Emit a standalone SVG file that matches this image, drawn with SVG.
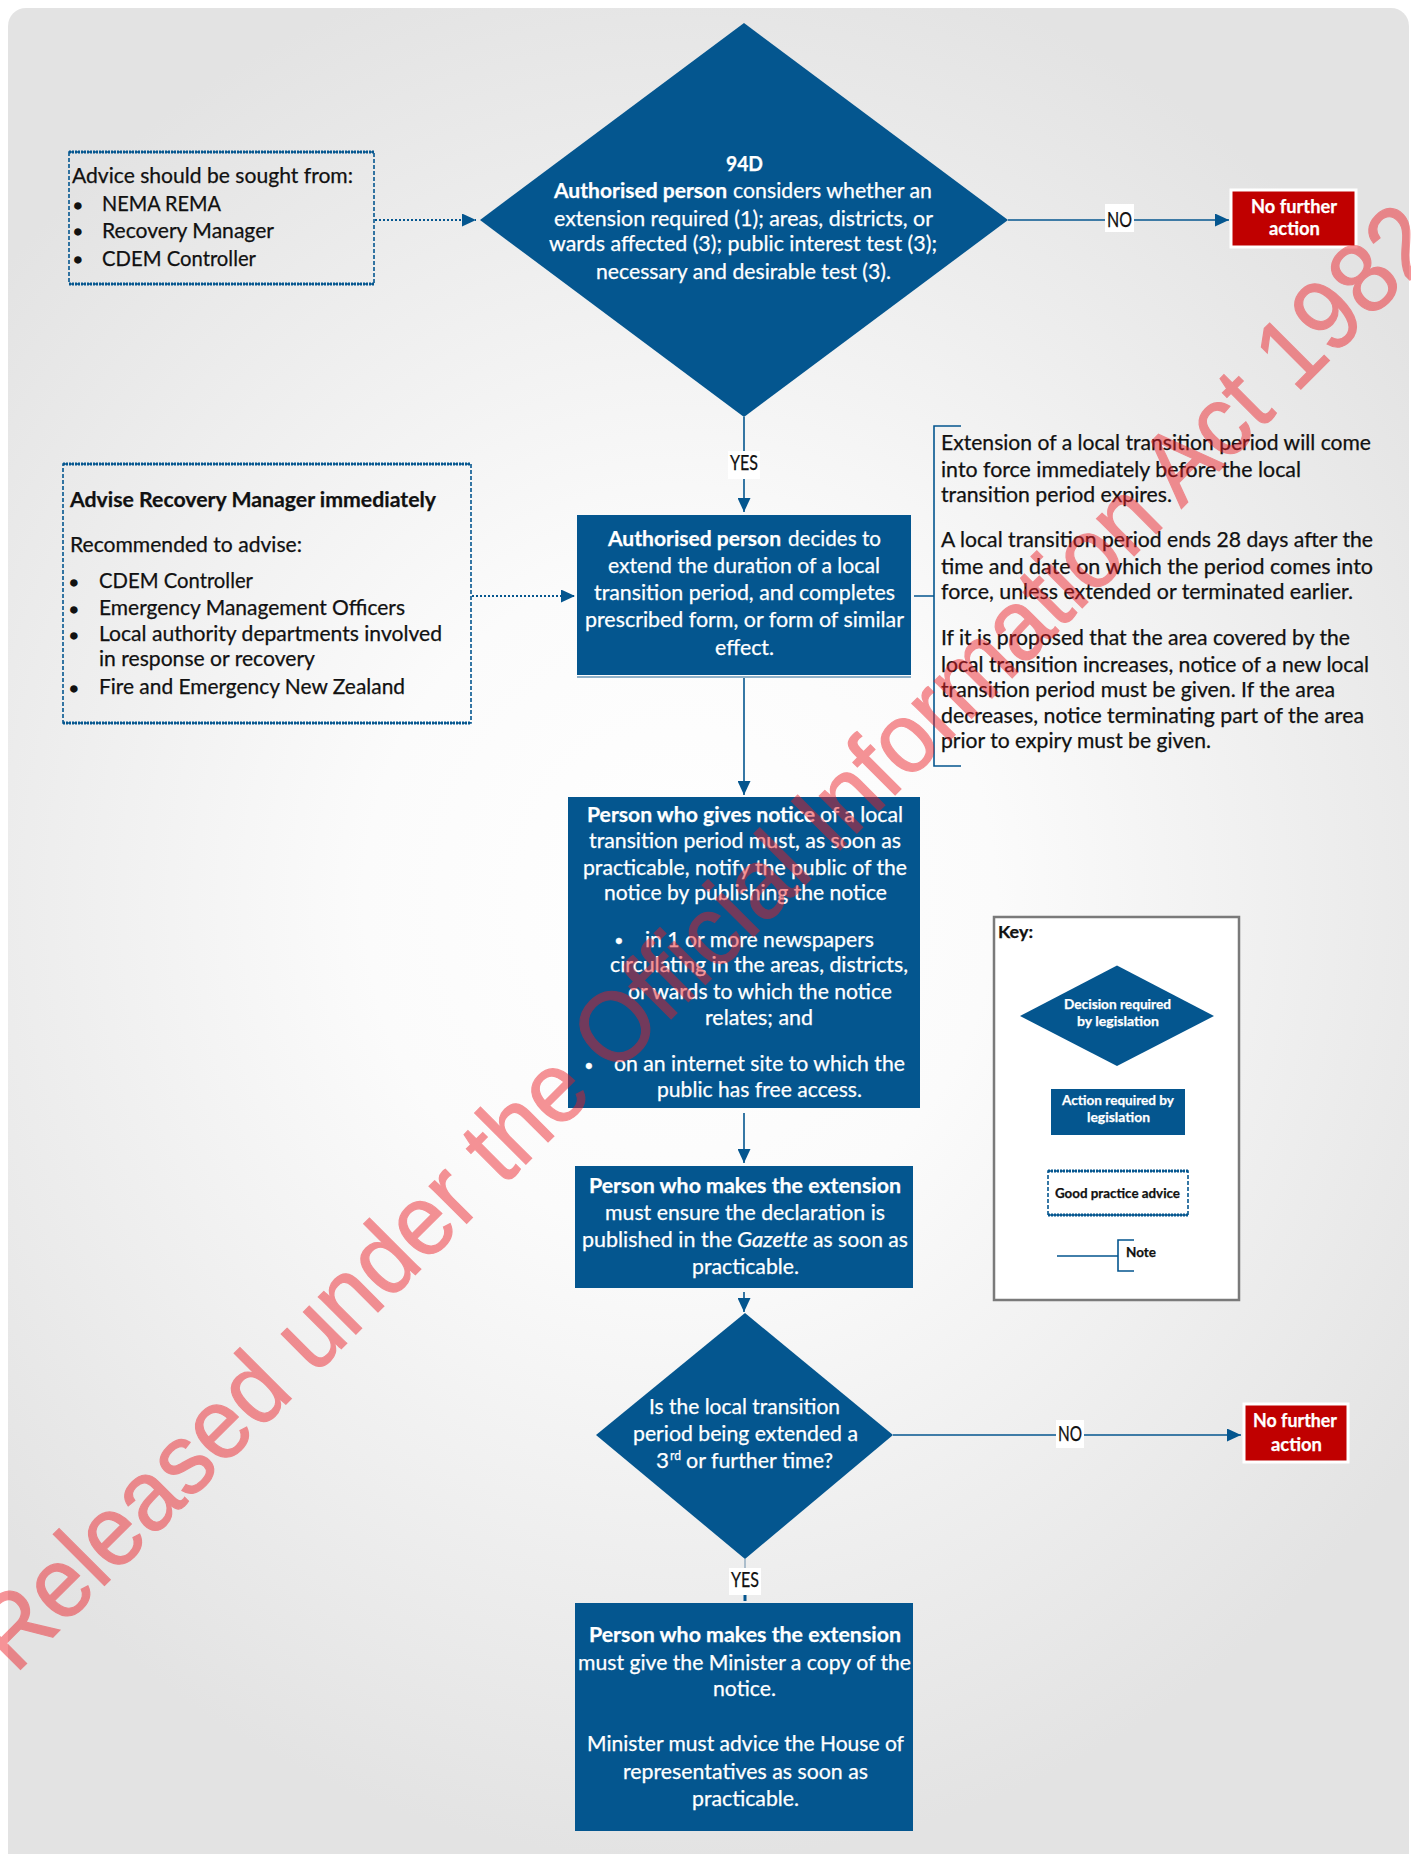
<svg xmlns="http://www.w3.org/2000/svg" width="1411" height="1854" viewBox="0 0 1411 1854">
<style>
text{font-family:"Lato","Liberation Sans",sans-serif;font-size:20.5px;fill:#111;stroke:#111;stroke-width:.25}
.w{fill:#fff;stroke:#fff}
.b{font-weight:700}
.s{font-size:14px}
.nf{font-size:18px}
.blt{font-family:"Liberation Sans",sans-serif;font-size:22px;stroke-width:1.5}
.blw{font-family:"Liberation Sans",sans-serif;font-size:22px}
.blue{fill:#04568f}
.red{fill:#c00000;stroke:#fff;stroke-width:3}
.adv{fill:none;stroke:#04568f;stroke-width:1.6;stroke-dasharray:4 2}
.advh{fill:none;stroke:#04568f;stroke-width:3;stroke-dasharray:2 1}
.ln{fill:none;stroke:#04568f;stroke-width:1.6}
.dot{fill:none;stroke:#04568f;stroke-width:2;stroke-dasharray:2 2}
.lbl{fill:#fff}
.wm{font-family:"Liberation Sans",sans-serif;font-size:100px;fill:#ed1c24;stroke:#ed1c24;stroke-width:1.2;opacity:.47}
</style>
<defs>
<radialGradient id="bg" gradientUnits="userSpaceOnUse" cx="0" cy="0" r="1" gradientTransform="translate(680 900) scale(900 960)">
<stop offset="0" stop-color="#ffffff"/><stop offset=".35" stop-color="#fbfbfb"/><stop offset=".7" stop-color="#eeeeee"/><stop offset="1" stop-color="#e3e3e3"/>
</radialGradient>
<marker id="arr" markerUnits="userSpaceOnUse" markerWidth="15" markerHeight="13" refX="14" refY="6.5" orient="auto"><path d="M0 0L14 6.5L0 13Z" fill="#04568f"/></marker>
</defs>
<rect width="1411" height="1854" fill="#fff"/>
<rect id="panel" x="8" y="8" width="1401" height="1870" rx="18" fill="url(#bg)"/>

<g id="connectors">
<path class="dot" d="M375 220H476" marker-end="url(#arr)"/>
<path class="ln" d="M1008 220H1229" marker-end="url(#arr)"/>
<path class="ln" d="M744 417V512" marker-end="url(#arr)"/>
<path class="dot" d="M472 596H575" marker-end="url(#arr)"/>
<path class="ln" d="M744 678V795" marker-end="url(#arr)"/>
<path class="ln" d="M744 1113V1163" marker-end="url(#arr)"/>
<path class="ln" d="M744 1292V1312" marker-end="url(#arr)"/>
<path class="ln" d="M893 1435H1241" marker-end="url(#arr)"/>
<path d="M745 1559V1572" fill="none" stroke="#7f9db5" stroke-width="1.2"/>
<path d="M745 1595V1601" fill="none" stroke="#04568f" stroke-width="3"/>
<path class="ln" d="M914 596H934M961 426H934V766H961"/>
<g id="label-no-1"><rect class="lbl" x="1105" y="204" width="29" height="28"/><text x="1107" y="226.500" textLength="25" lengthAdjust="spacingAndGlyphs">NO</text></g>
<g id="label-yes-1"><rect class="lbl" x="728" y="451" width="32" height="28"/><text x="730" y="470" textLength="28" lengthAdjust="spacingAndGlyphs">YES</text></g>
<g id="label-no-2"><rect class="lbl" x="1056" y="1420" width="28" height="28"/><text x="1058" y="1441" textLength="24" lengthAdjust="spacingAndGlyphs">NO</text></g>
<g id="label-yes-2"><rect class="lbl" x="729" y="1568" width="32" height="27"/><text x="731" y="1587" textLength="28" lengthAdjust="spacingAndGlyphs">YES</text></g>
</g>

<g id="advice-1">
<rect class="adv" x="69" y="152" width="305" height="132"/>
<path class="advh" d="M69 152H374M69 284H374"/>
<text x="72" y="183" textLength="281" lengthAdjust="spacingAndGlyphs">Advice should be sought from:</text>
<text class="blt" x="74" y="213">•</text><text x="102" y="211" textLength="119" lengthAdjust="spacingAndGlyphs">NEMA REMA</text>
<text class="blt" x="74" y="239">•</text><text x="102" y="238" textLength="172" lengthAdjust="spacingAndGlyphs">Recovery Manager</text>
<text class="blt" x="74" y="267">•</text><text x="102" y="266" textLength="154" lengthAdjust="spacingAndGlyphs">CDEM Controller</text>
</g>

<g id="decision-94d">
<polygon class="blue" points="744,23 1008,220 744,417 480,220"/>
<text class="w b" x="726" y="171" textLength="37" lengthAdjust="spacingAndGlyphs">94D</text>
<text class="w" y="198"><tspan class="b" x="554" textLength="173" lengthAdjust="spacingAndGlyphs">Authorised person</tspan> <tspan x="733" textLength="199" lengthAdjust="spacingAndGlyphs">considers whether an</tspan></text>
<text class="w" x="554" y="226" textLength="379" lengthAdjust="spacingAndGlyphs">extension required (1); areas, districts, or</text>
<text class="w" x="549" y="251" textLength="388" lengthAdjust="spacingAndGlyphs">wards affected (3); public interest test (3);</text>
<text class="w" x="596" y="279" textLength="295" lengthAdjust="spacingAndGlyphs">necessary and desirable test (3).</text>
</g>

<g id="no-action-1">
<rect class="red" x="1231" y="190" width="125" height="57"/>
<text class="w b nf" x="1251" y="213" textLength="86" lengthAdjust="spacingAndGlyphs">No further</text>
<text class="w b nf" x="1269" y="235" textLength="51" lengthAdjust="spacingAndGlyphs">action</text>
</g>

<g id="advice-2">
<rect class="adv" x="63" y="464" width="408" height="259"/>
<path class="advh" d="M63 464H471M63 723H471"/>
<text class="b" x="70" y="507" textLength="366" lengthAdjust="spacingAndGlyphs">Advise Recovery Manager immediately</text>
<text x="70" y="552" textLength="232" lengthAdjust="spacingAndGlyphs">Recommended to advise:</text>
<text class="blt" x="70" y="590">•</text><text x="99" y="588" textLength="154" lengthAdjust="spacingAndGlyphs">CDEM Controller</text>
<text class="blt" x="70" y="617">•</text><text x="99" y="615" textLength="306" lengthAdjust="spacingAndGlyphs">Emergency Management Officers</text>
<text class="blt" x="70" y="643">•</text><text x="99" y="641" textLength="343" lengthAdjust="spacingAndGlyphs">Local authority departments involved</text>
<text x="99" y="666" textLength="216" lengthAdjust="spacingAndGlyphs">in response or recovery</text>
<text class="blt" x="70" y="696">•</text><text x="99" y="694" textLength="306" lengthAdjust="spacingAndGlyphs">Fire and Emergency New Zealand</text>
</g>

<g id="action-decide">
<rect class="blue" x="577" y="515" width="334" height="160"/>
<rect x="577" y="676" width="334" height="2" fill="#8fb0c8"/>
<text class="w" y="546"><tspan class="b" x="608" textLength="173" lengthAdjust="spacingAndGlyphs">Authorised person</tspan> <tspan x="788" textLength="93" lengthAdjust="spacingAndGlyphs">decides to</tspan></text>
<text class="w" x="608" y="573" textLength="272" lengthAdjust="spacingAndGlyphs">extend the duration of a local</text>
<text class="w" x="594" y="600" textLength="301" lengthAdjust="spacingAndGlyphs">transition period, and completes</text>
<text class="w" x="585" y="627" textLength="319" lengthAdjust="spacingAndGlyphs">prescribed form, or form of similar</text>
<text class="w" x="715" y="655" textLength="59" lengthAdjust="spacingAndGlyphs">effect.</text>
</g>

<g id="note-extension">
<text x="941" y="450" textLength="430" lengthAdjust="spacingAndGlyphs">Extension of a local transition period will come</text>
<text x="941" y="477" textLength="360" lengthAdjust="spacingAndGlyphs">into force immediately before the local</text>
<text x="941" y="502" textLength="231" lengthAdjust="spacingAndGlyphs">transition period expires.</text>
<text x="941" y="547" textLength="432" lengthAdjust="spacingAndGlyphs">A local transition period ends 28 days after the</text>
<text x="941" y="574" textLength="432" lengthAdjust="spacingAndGlyphs">time and date on which the period comes into</text>
<text x="941" y="599" textLength="412" lengthAdjust="spacingAndGlyphs">force, unless extended or terminated earlier.</text>
<text x="941" y="645" textLength="409" lengthAdjust="spacingAndGlyphs">If it is proposed that the area covered by the</text>
<text x="941" y="672" textLength="428" lengthAdjust="spacingAndGlyphs">local transition increases, notice of a new local</text>
<text x="941" y="697" textLength="394" lengthAdjust="spacingAndGlyphs">transition period must be given. If the area</text>
<text x="941" y="723" textLength="423" lengthAdjust="spacingAndGlyphs">decreases, notice terminating part of the area</text>
<text x="941" y="748" textLength="270" lengthAdjust="spacingAndGlyphs">prior to expiry must be given.</text>
</g>

<g id="action-notify">
<rect class="blue" x="568" y="797" width="352" height="311"/>
<text class="w" y="822"><tspan class="b" x="587" textLength="228" lengthAdjust="spacingAndGlyphs">Person who gives notice</tspan> <tspan x="820" textLength="83" lengthAdjust="spacingAndGlyphs">of a local</tspan></text>
<text class="w" x="589" y="848" textLength="312" lengthAdjust="spacingAndGlyphs">transition period must, as soon as</text>
<text class="w" x="583" y="875" textLength="324" lengthAdjust="spacingAndGlyphs">practicable, notify the public of the</text>
<text class="w" x="604" y="900" textLength="283" lengthAdjust="spacingAndGlyphs">notice by publishing the notice</text>
<text class="w blw" x="615" y="948">•</text><text class="w" x="645" y="947" textLength="229" lengthAdjust="spacingAndGlyphs">in 1 or more newspapers</text>
<text class="w" x="610" y="972" textLength="298" lengthAdjust="spacingAndGlyphs">circulating in the areas, districts,</text>
<text class="w" x="628" y="999" textLength="264" lengthAdjust="spacingAndGlyphs">or wards to which the notice</text>
<text class="w" x="705" y="1025" textLength="108" lengthAdjust="spacingAndGlyphs">relates; and</text>
<text class="w blw" x="585" y="1072.500">•</text><text class="w" x="614" y="1071" textLength="291" lengthAdjust="spacingAndGlyphs">on an internet site to which the</text>
<text class="w" x="657" y="1097" textLength="205" lengthAdjust="spacingAndGlyphs">public has free access.</text>
</g>

<g id="action-gazette">
<rect class="blue" x="575" y="1166" width="338" height="122"/>
<text class="w b" x="589" y="1193" textLength="312" lengthAdjust="spacingAndGlyphs">Person who makes the extension</text>
<text class="w" x="605" y="1220" textLength="280" lengthAdjust="spacingAndGlyphs">must ensure the declaration is</text>
<text class="w" y="1247"><tspan x="582" textLength="150" lengthAdjust="spacingAndGlyphs">published in the</tspan> <tspan x="737" textLength="71" lengthAdjust="spacingAndGlyphs" font-style="italic">Gazette</tspan> <tspan x="813" textLength="95" lengthAdjust="spacingAndGlyphs">as soon as</tspan></text>
<text class="w" x="692" y="1274" textLength="107" lengthAdjust="spacingAndGlyphs">practicable.</text>
</g>

<g id="key">
<rect x="994" y="917" width="245" height="383" fill="#fff" stroke="#7a7a7a" stroke-width="2.5"/>
<text class="b" x="998" y="938" textLength="35" lengthAdjust="spacingAndGlyphs" style="font-size:17px">Key:</text>
<polygon class="blue" points="1117,965.500 1214,1016 1117,1066 1020,1016"/>
<text class="w b s" x="1064" y="1009" textLength="107" lengthAdjust="spacingAndGlyphs">Decision required</text>
<text class="w b s" x="1077" y="1026" textLength="82" lengthAdjust="spacingAndGlyphs">by legislation</text>
<rect class="blue" x="1051" y="1089" width="134" height="46"/>
<text class="w b s" x="1062" y="1105" textLength="112" lengthAdjust="spacingAndGlyphs">Action required by</text>
<text class="w b s" x="1087" y="1122" textLength="63" lengthAdjust="spacingAndGlyphs">legislation</text>
<rect class="adv" x="1048" y="1171" width="140" height="44"/>
<path class="advh" d="M1048 1171H1188M1048 1215H1188"/>
<text class="b s" x="1055" y="1198" textLength="125" lengthAdjust="spacingAndGlyphs">Good practice advice</text>
<path class="ln" d="M1057 1256H1118M1134 1240H1118V1271H1134"/>
<text class="b s" x="1126" y="1257" textLength="30" lengthAdjust="spacingAndGlyphs">Note</text>
</g>

<g id="decision-third">
<polygon class="blue" points="745,1313 893,1435 745,1559 596,1435"/>
<text class="w" x="649" y="1414" textLength="191" lengthAdjust="spacingAndGlyphs">Is the local transition</text>
<text class="w" x="633" y="1441" textLength="225" lengthAdjust="spacingAndGlyphs">period being extended a</text>
<text class="w" y="1468"><tspan x="656" textLength="13" lengthAdjust="spacingAndGlyphs">3</tspan><tspan x="670" y="1460" font-size="13" textLength="11" lengthAdjust="spacingAndGlyphs">rd</tspan> <tspan x="686" y="1468" textLength="147" lengthAdjust="spacingAndGlyphs">or further time?</tspan></text>
</g>

<g id="no-action-2">
<rect class="red" x="1244" y="1404" width="104" height="58"/>
<text class="w b nf" x="1253" y="1427" textLength="84" lengthAdjust="spacingAndGlyphs">No further</text>
<text class="w b nf" x="1271" y="1451" textLength="51" lengthAdjust="spacingAndGlyphs">action</text>
</g>

<g id="action-minister">
<rect class="blue" x="575" y="1603" width="338" height="228"/>
<text class="w b" x="589" y="1642" textLength="312" lengthAdjust="spacingAndGlyphs">Person who makes the extension</text>
<text class="w" x="578" y="1670" textLength="333" lengthAdjust="spacingAndGlyphs">must give the Minister a copy of the</text>
<text class="w" x="713" y="1696" textLength="63" lengthAdjust="spacingAndGlyphs">notice.</text>
<text class="w" x="587" y="1751" textLength="317" lengthAdjust="spacingAndGlyphs">Minister must advice the House of</text>
<text class="w" x="623" y="1779" textLength="245" lengthAdjust="spacingAndGlyphs">representatives as soon as</text>
<text class="w" x="692" y="1806" textLength="107" lengthAdjust="spacingAndGlyphs">practicable.</text>
</g>

<g id="watermark">
<text class="wm" transform="translate(15 1675) rotate(-45) scale(.94 1)">Released under the Official Information Act 1982</text>
</g>
</svg>
